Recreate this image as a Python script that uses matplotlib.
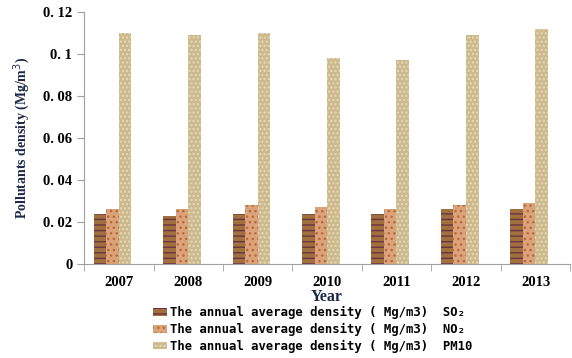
import numpy as np
import matplotlib
matplotlib.use("Agg")
import matplotlib.pyplot as plt
from matplotlib.ticker import FuncFormatter

years = ["2007", "2008", "2009", "2010", "2011", "2012", "2013"]
so2 = [0.024, 0.023, 0.024, 0.024, 0.024, 0.026, 0.026]
no2 = [0.026, 0.026, 0.028, 0.027, 0.026, 0.028, 0.029]
pm10 = [0.110, 0.109, 0.110, 0.098, 0.097, 0.109, 0.112]

labels = ["The annual average density ( Mg/m3)  SO\u2082",
          "The annual average density ( Mg/m3)  NO\u2082",
          "The annual average density ( Mg/m3)  PM10"]

fig = plt.figure(figsize=(5.72, 3.58), dpi=100)
ax = fig.add_axes([0.147, 0.263, 0.85, 0.703])

x = np.arange(len(years))
w = 0.185
# textured-looking fills: base colour plus a hatch in a second colour
styles = [
    dict(color="#a0703f", hatch="---", edge="#6a3440"),
    dict(color="#dca27a", hatch="...", edge="#b56a3c"),
    dict(color="#cdb98e", hatch="....", edge="#e8dcb4"),
]
offsets = [-0.27, -0.09, 0.09]
handles = []
for vals, off, st, lab in zip([so2, no2, pm10], offsets, styles, labels):
    b = ax.bar(x + off, vals, width=w, color=st["color"], hatch=st["hatch"],
               edgecolor=st["edge"], linewidth=0, label=lab)
    handles.append(b)

ax.set_xlim(-0.5, len(years) - 0.5)
ax.set_ylim(0, 0.12)
ax.set_yticks(np.arange(0, 0.121, 0.02))


def fmt(v, pos):
    if abs(v) < 1e-9:
        return "0"
    s = ("%.2f" % v).rstrip("0")
    return s.replace(".", ". ")


ax.yaxis.set_major_formatter(FuncFormatter(fmt))
ax.set_xticks(x)
ax.set_xticklabels(years)
ax.set_xticks(np.arange(-0.5, len(years)), minor=True)
ax.tick_params(axis="x", which="major", length=0, pad=9)
ax.tick_params(axis="x", which="minor", length=5, color="#a0a0a0")
ax.tick_params(axis="y", length=5, color="#a0a0a0")

for lab in ax.get_xticklabels() + ax.get_yticklabels():
    lab.set_fontfamily("Liberation Serif")
    lab.set_fontweight("bold")
    lab.set_fontsize(10.5)

for side in ["top", "right"]:
    ax.spines[side].set_visible(False)
for side in ["left", "bottom"]:
    ax.spines[side].set_color("#a0a0a0")

ax.set_ylabel("Pollutants density (Mg/m$^3$)", fontfamily="Liberation Serif",
              fontweight="bold", fontsize=10, color="#1c2a4a", labelpad=8)
ax.set_xlabel("Year", fontfamily="Liberation Serif", fontweight="bold",
              fontsize=11.5, color="#1c2a4a", labelpad=0)

fig.legend(handles=handles, loc="upper left", bbox_to_anchor=(0.268, 0.145),
           frameon=False, prop=dict(family="DejaVu Sans Mono", weight="bold", size=8.8),
           handlelength=1.1, handleheight=0.6, handletextpad=0.3,
           labelspacing=0.3, borderaxespad=0, borderpad=0)

fig.savefig("out.png", dpi=100)
